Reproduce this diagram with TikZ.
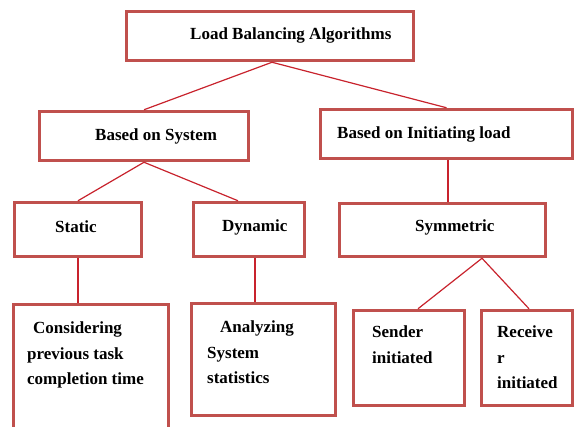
\documentclass[tikz,border=0pt]{standalone}
\usepackage{fontspec}
\setmainfont{Liberation Serif}
\usetikzlibrary{positioning}

\definecolor{boxred}{RGB}{192,80,77}
\definecolor{linered}{RGB}{200,35,45}

\begin{document}
\begin{tikzpicture}[x=1pt,y=-1pt]
    \tikzstyle{block} = [rectangle, draw=boxred, line width=3.5pt, fill=white,
        inner sep=0pt]
    \tikzstyle{line} = [draw=linered, line width=1.2pt]
    \tikzstyle{boxtitle} = [inner sep=0pt, anchor=west,
        font=\fontsize{17}{25.5}\selectfont\bfseries]
    \tikzstyle{boxtext} = [boxtitle, anchor=north west, align=left]

    \useasboundingbox (0,0) rectangle (575,426);

    % Load Balancing Algorithms
    \node[block, minimum width=287pt, minimum height=49pt] (alg) at (270,36) {};
    \node[boxtitle] (algname) at (190,35) {Load Balancing Algorithms};
    % Based on System
    \node[block, minimum width=209pt, minimum height=49pt] (system) at (144,136) {};
    \node[boxtitle] (systemname) at (95,136) {Based on System};
    \node[block, minimum width=127pt, minimum height=54pt] (static) at (78,229.5) {};
    \node[boxtitle] (staticname) at (55,227) {Static};
    \node[block, minimum width=111pt, minimum height=54pt] (dynamic) at (249,229.5) {};
    \node[boxtitle] (dynamicname) at (222,227) {Dynamic};
    \node[block, minimum width=155pt, minimum height=140pt] (previous) at (91,374.5) {};
    \node[boxtext] (previousname) at (27,321.5)
        {\hspace*{6pt}Considering\\previous task\\completion time};
    \node[block, minimum width=144pt, minimum height=112pt] (statistics) at (263.5,359.5) {};
    \node[boxtext] (statisticsname) at (207,320.5)
        {\hspace*{13pt}Analyzing\\System\\statistics};
    % Based on Initiating load
    \node[block, minimum width=252pt, minimum height=49pt] (initiating) at (446.5,134) {};
    \node[boxtitle] (initiatingname) at (337,134) {Based on Initiating load};
    \node[block, minimum width=206pt, minimum height=53pt] (symmetric) at (442.5,230) {};
    \node[boxtitle] (symmetricname) at (415,227) {Symmetric};
    \node[block, minimum width=111pt, minimum height=95pt] (sender) at (409,358) {};
    \node[boxtext] (sendername) at (372,325.5) {Sender\\initiated};
    \node[block, minimum width=91pt, minimum height=95pt] (receiver) at (527,358) {};
    \node[boxtext] (receivername) at (497,325.5) {Receive\\r\\initiated};

    \draw[line] ([xshift=2pt]alg.south) -- (system.north);
    \draw[line] ([xshift=2pt]alg.south) -- (initiating.north);
    \draw[line] (system.south) -- (static.north);
    \draw[line] (system.south) -- ([xshift=-11pt]dynamic.north);
    \draw[line] ([xshift=1.5pt]initiating.south) -- ([xshift=1.5pt]initiating.south |- symmetric.north);
    \draw[line] (static.south) -- (static.south |- previous.north);
    \draw[line] ([xshift=6pt]dynamic.south) -- ([xshift=6pt]dynamic.south |- statistics.north);
    \draw[line] ([xshift=39.5pt]symmetric.south) -- ([xshift=9pt]sender.north);
    \draw[line] ([xshift=39.5pt]symmetric.south) -- ([xshift=2pt]receiver.north);
\end{tikzpicture}
\end{document}
